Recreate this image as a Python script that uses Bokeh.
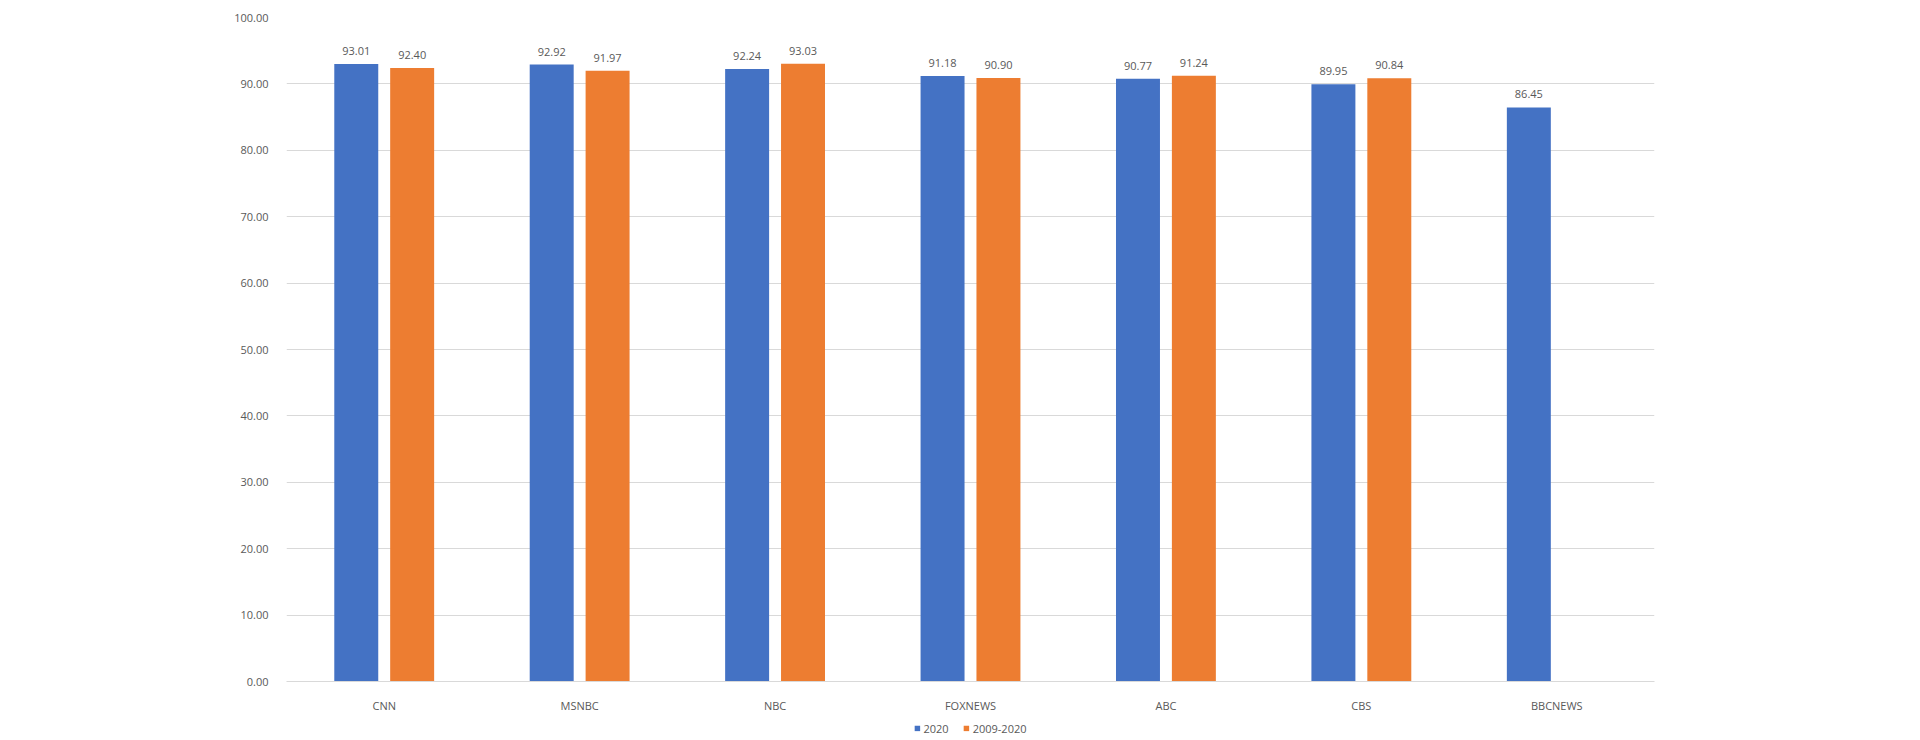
from bokeh.plotting import figure
from bokeh.layouts import column
from bokeh.models import ColumnDataSource, FactorRange, Legend, LegendItem, NumeralTickFormatter, SingleIntervalTicker
from bokeh.transform import dodge
from bokeh.core.properties import value
from bokeh.embed import file_html
from bokeh.resources import INLINE

categories = ["CNN", "MSNBC", "NBC", "FOXNEWS", "ABC", "CBS", "BBCNEWS"]
series_2020 = [93.01, 92.92, 92.24, 91.18, 90.77, 89.95, 86.45]
series_2009_2020 = [92.40, 91.97, 93.03, 90.90, 91.24, 90.84, None]
series_names = ["2020", "2009-2020"]

BLUE = "#4472C4"
ORANGE = "#ED7D31"
TXT = "#595959"
GRID = "#D9D9D9"
FONT = "Open Sans"

src_a = ColumnDataSource(dict(cat=categories, val=series_2020,
                              lab=["%.2f" % v for v in series_2020]))
cats_b = [c for c, v in zip(categories, series_2009_2020) if v is not None]
vals_b = [v for v in series_2009_2020 if v is not None]
src_b = ColumnDataSource(dict(cat=cats_b, val=vals_b, lab=["%.2f" % v for v in vals_b]))

p = figure(x_range=FactorRange(*categories, range_padding=0), y_range=(0, 100),
           width=1920, height=715, output_backend="svg", toolbar_location=None,
           min_border_left=286, min_border_right=266, min_border_top=17, min_border_bottom=34)
p.outline_line_color = None
p.background_fill_color = "white"

off = 0.143
w = 0.225
r_a = p.vbar(x=dodge("cat", -off, range=p.x_range), top="val", width=w, source=src_a,
             fill_color=BLUE, line_color=None)
r_b = p.vbar(x=dodge("cat", off, range=p.x_range), top="val", width=w, source=src_b,
             fill_color=ORANGE, line_color=None)

for src, o in ((src_a, -off), (src_b, off)):
    p.text(x=dodge("cat", o, range=p.x_range), y="val", text="lab", source=src,
           text_font=value(FONT), text_font_size="11px", text_color=TXT,
           text_align="center", text_baseline="middle", y_offset=-13)

p.yaxis.ticker = SingleIntervalTicker(interval=10)
p.yaxis.formatter = NumeralTickFormatter(format="0.00")
p.yaxis.axis_line_color = None
p.yaxis.major_tick_line_color = None
p.yaxis.minor_tick_line_color = None
p.yaxis.major_label_standoff = 12
p.yaxis.major_label_text_font = FONT
p.yaxis.major_label_text_font_size = "11px"
p.yaxis.major_label_text_color = TXT

p.xaxis.axis_line_color = GRID
p.xaxis.axis_line_width = 1
p.xaxis.major_tick_line_color = None
p.xaxis.minor_tick_line_color = None
p.xaxis.major_label_standoff = 10
p.xaxis.major_label_text_font = FONT
p.xaxis.major_label_text_font_size = "11px"
p.xaxis.major_label_text_color = TXT

p.xgrid.grid_line_color = None
p.ygrid.grid_line_color = GRID
p.ygrid.grid_line_width = 1

# legend strip below the chart (zero-height proxy bars carry the legend colours)
lg = figure(width=1920, height=25, output_backend="svg", toolbar_location=None,
            x_axis_type=None, y_axis_type=None, x_range=(0, 1), y_range=(0, 1),
            min_border=0, min_border_left=0, min_border_right=0,
            min_border_top=0, min_border_bottom=0)
lg.outline_line_color = None
lg.grid.visible = False
proxy = dict(x=[0.5], top=[0], bottom=[0])
l_a = lg.vbar(x="x", top="top", bottom="bottom", width=0, source=ColumnDataSource(proxy),
              fill_color=BLUE, line_color=None)
l_b = lg.vbar(x="x", top="top", bottom="bottom", width=0, source=ColumnDataSource(proxy),
              fill_color=ORANGE, line_color=None)

legend = Legend(items=[LegendItem(label=series_names[0], renderers=[l_a]),
                       LegendItem(label=series_names[1], renderers=[l_b])],
                orientation="horizontal", location="center",
                glyph_width=7, glyph_height=7, label_text_font=FONT,
                label_text_font_size="11px", label_text_color=TXT,
                label_standoff=3, spacing=14, padding=0, margin=0,
                label_height=10, background_fill_alpha=0, border_line_color=None)
lg.add_layout(legend, "center")

open("out.html", "w").write(file_html(column(p, lg), INLINE))
